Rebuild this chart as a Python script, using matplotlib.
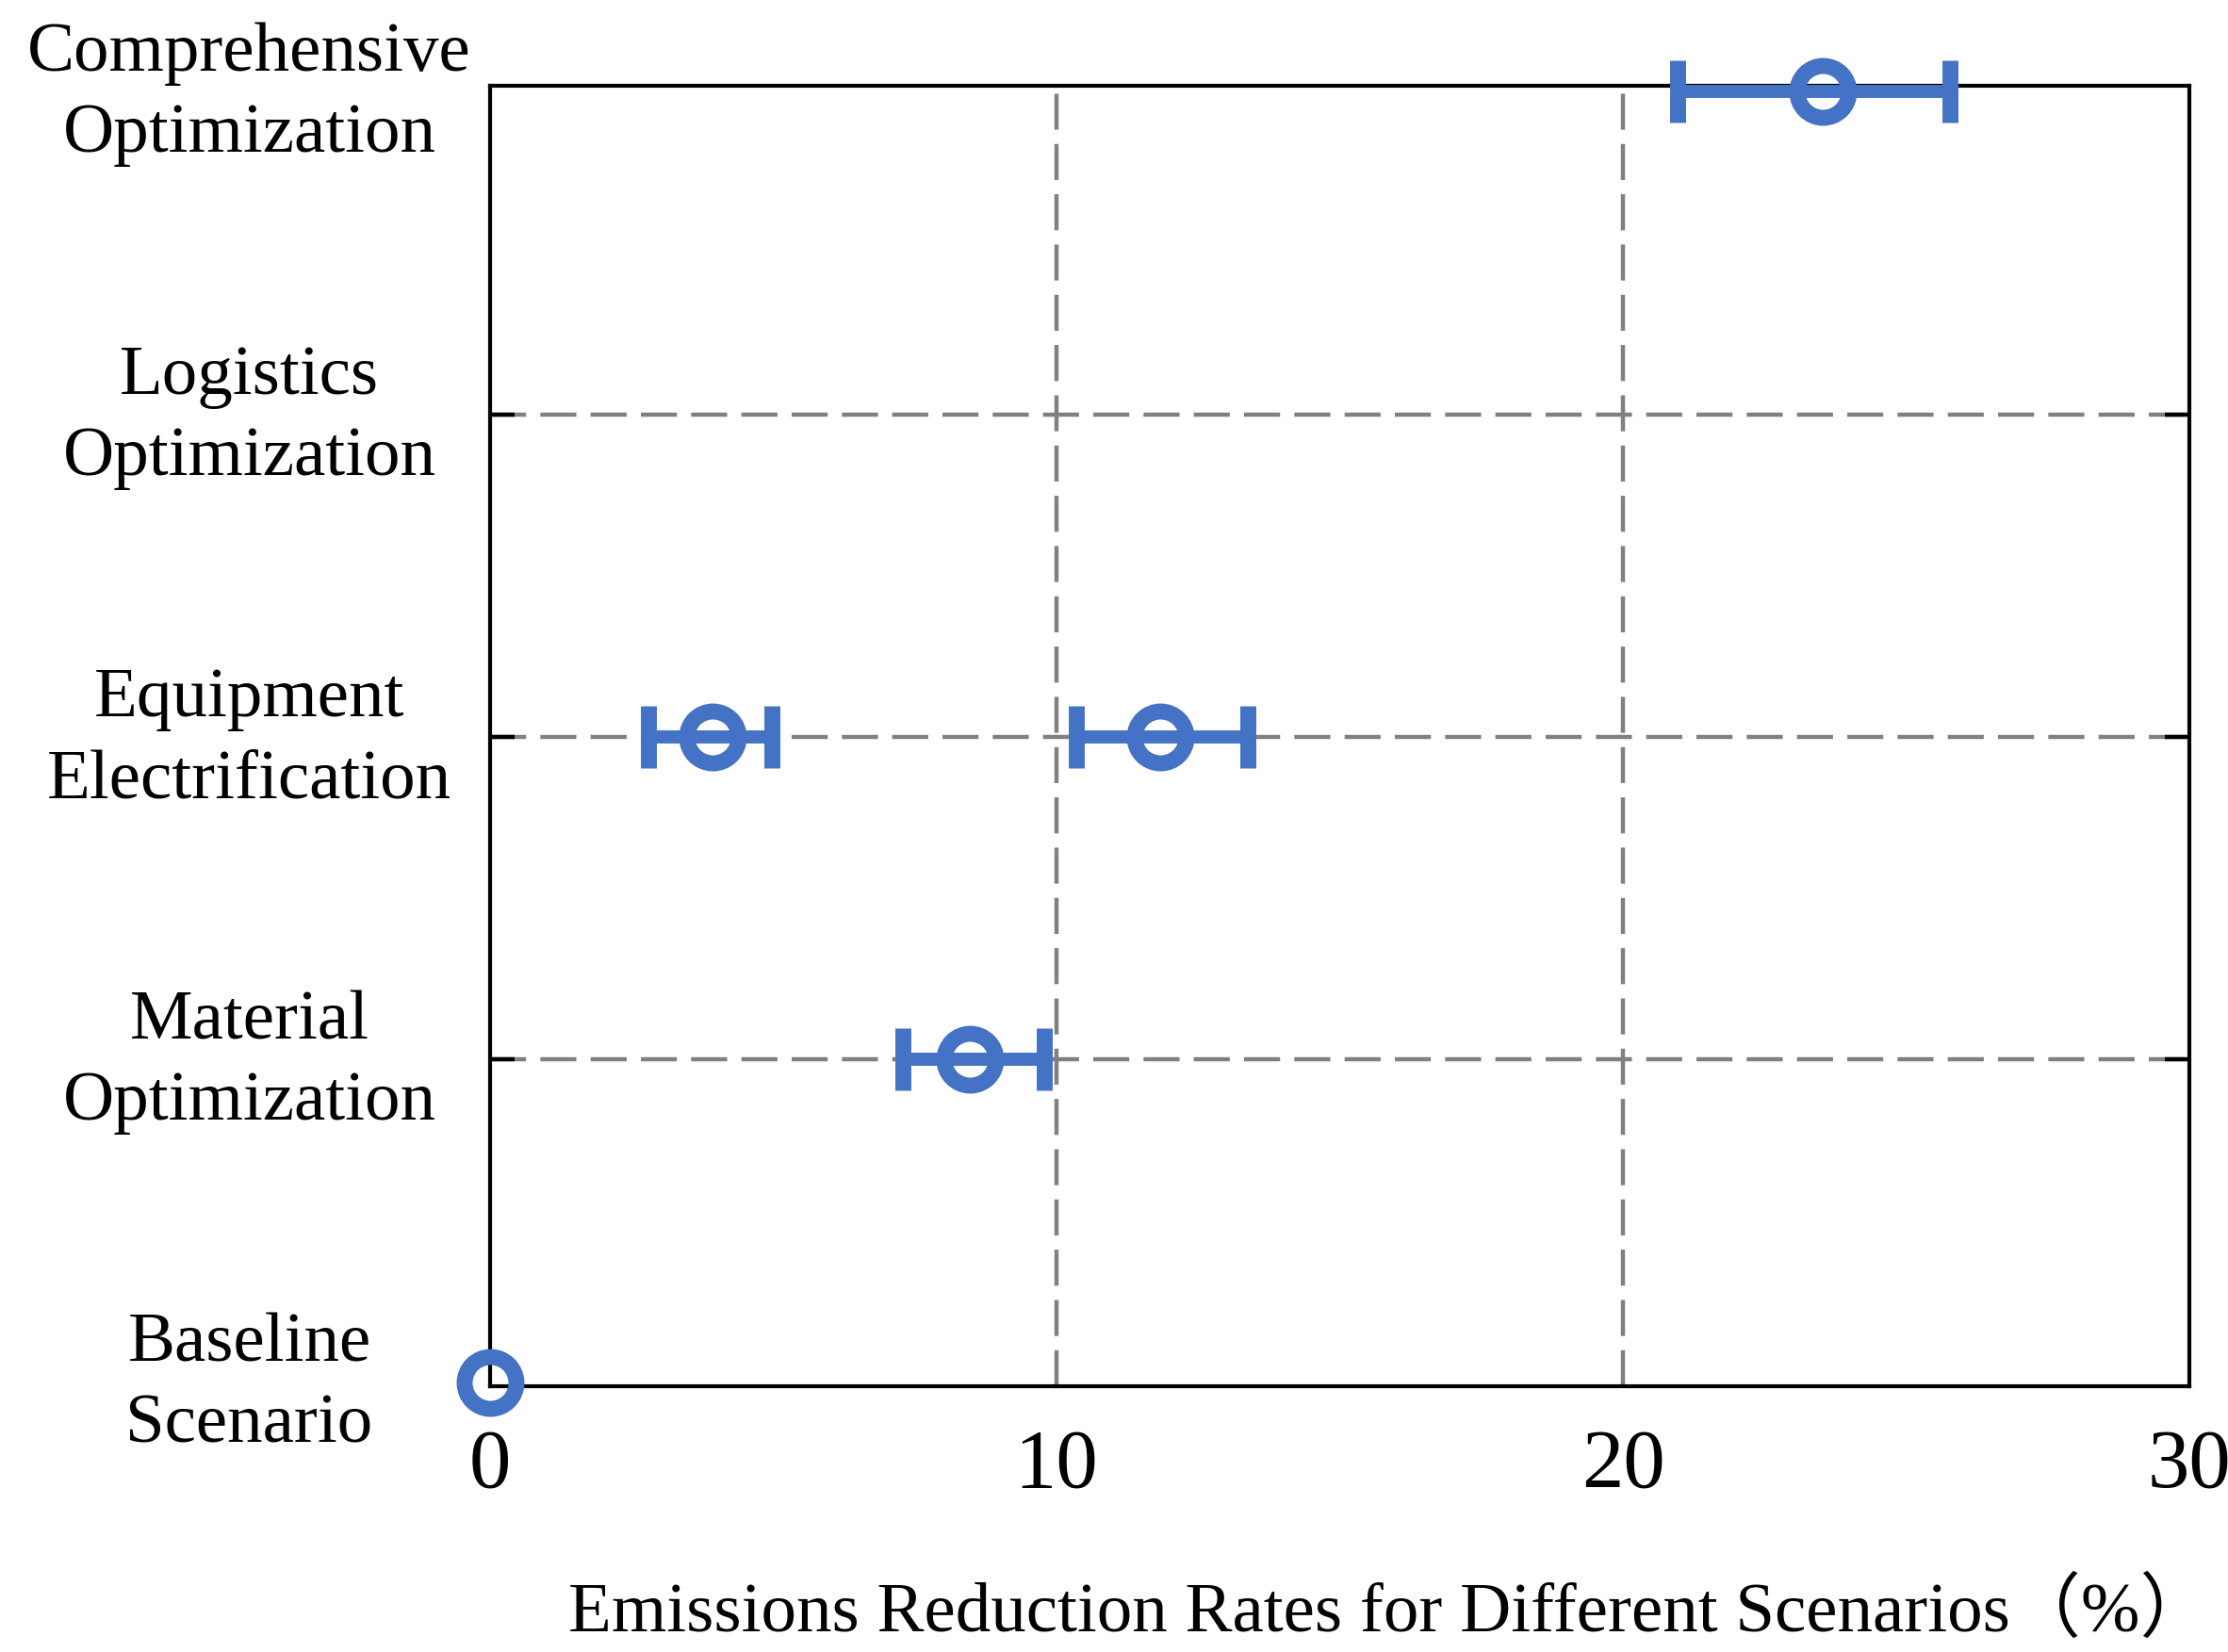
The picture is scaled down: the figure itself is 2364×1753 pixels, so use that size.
import matplotlib
matplotlib.use("Agg")
import matplotlib.pyplot as plt
import matplotlib.transforms as mtransforms
import numpy as np

# scenario rows, bottom to top
scenarios = [
    "Baseline\nScenario",
    "Material\nOptimization",
    "Equipment\nElectrification",
    "Logistics\nOptimization",
    "Comprehensive\nOptimization",
]

# one entry per plotted point: row index, centre value, lower end, upper end (%)
point_rows = [0, 1, 2, 2, 4]
point_mid = [0.0, 8.47, 3.93, 11.83, 23.52]
point_low = [np.nan, 7.28, 2.8, 10.35, 20.97]
point_high = [np.nan, 9.78, 4.97, 13.37, 25.77]

x_ticks = [0, 10, 20, 30]
x_label = "Emissions Reduction Rates for Different Scenarios（%）"

blue = "#4472C4"
grid_gray = "#808080"

plt.rcParams["font.family"] = ["Liberation Serif", "Noto Sans CJK SC"]

fig = plt.figure(figsize=(11.82, 8.765), dpi=200)
ax = fig.add_axes([0.2200, 0.1609, 0.7627, 0.7874])

mid = np.array(point_mid)
err_lo = mid - np.array(point_low)
err_hi = np.array(point_high) - mid

ax.errorbar(
    mid,
    point_rows,
    xerr=[err_lo, err_hi],
    fmt="o",
    color=blue,
    mfc="none",
    mec=blue,
    ms=19.8,
    mew=6.1,
    elinewidth=5,
    capsize=12,
    capthick=5,
    zorder=3,
    clip_on=False,
)

ax.set_xlim(0, 30)
ax.set_ylim(-0.0125, 4.019)
ax.set_xticks(x_ticks)
ax.set_yticks(range(len(scenarios)))
ax.set_yticklabels(scenarios)

ax.set_axisbelow(True)
ax.grid(True, color=grid_gray, linestyle=(0, (8.6, 3.4)), linewidth=1.6)

ax.tick_params(axis="y", direction="in", length=9.5, width=1.6,
               left=True, right=True, labelsize=27, pad=92)
ax.tick_params(axis="x", length=0, labelsize=32, pad=16)

# the first and last rows sit on the frame: no grid line or tick mark there
for tk in (ax.yaxis.get_major_ticks()[0], ax.yaxis.get_major_ticks()[-1],
           ax.xaxis.get_major_ticks()[0], ax.xaxis.get_major_ticks()[-1]):
    tk.gridline.set_visible(False)
    tk.tick1line.set_visible(False)
    tk.tick2line.set_visible(False)

# centred two-line labels, nudged up a little like the original
lift = mtransforms.ScaledTranslation(0, 5 / 72, fig.dpi_scale_trans)
for lab in ax.get_yticklabels():
    lab.set_horizontalalignment("center")
    lab.set_multialignment("center")
    lab.set_linespacing(1.36)
    lab.set_transform(lab.get_transform() + lift)

for sp in ax.spines.values():
    sp.set_linewidth(1.5)
    sp.set_color("black")

ax.set_xlabel(x_label, fontsize=27)
ax.xaxis.set_label_coords(0.529, -0.148)

fig.savefig("out.png", dpi=200)
plt.close(fig)
